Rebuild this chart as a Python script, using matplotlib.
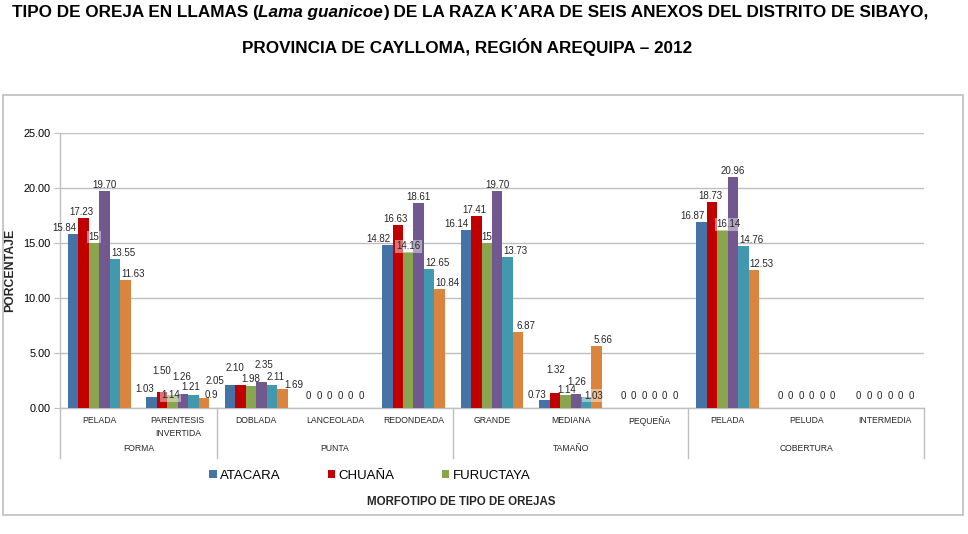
import matplotlib
matplotlib.use('Agg')
import matplotlib.pyplot as plt
from matplotlib import font_manager
from matplotlib.patches import Rectangle
from matplotlib.lines import Line2D
from matplotlib.transforms import blended_transform_factory, offset_copy
import numpy as np

# categories of the x axis (two levels)
categories = ['PELADA', 'PARENTESIS\nINVERTIDA', 'DOBLADA', 'LANCEOLADA', 'REDONDEADA',
              'GRANDE', 'MEDIANA', 'PEQUEÑA', 'PELADA', 'PELUDA', 'INTERMEDIA']
groups = ['FORMA', 'PUNTA', 'TAMAÑO', 'COBERTURA']
group_sizes = [2, 3, 3, 3]

# values as printed on the chart (one list per anexo)
series_names = ['ATACARA', 'CHUAÑA', 'FURUCTAYA', 'ANEXO 4', 'ANEXO 5', 'ANEXO 6']
atacara = ['15.84', '1.03', '2.05', '0', '14.82', '16.14', '0.73', '0', '16.87', '0', '0']
chuana = ['17.23', '1.50', '2.10', '0', '16.63', '17.41', '1.32', '0', '18.73', '0', '0']
fuructaya = ['15', '1.14', '1.98', '0', '14.16', '15', '1.14', '0', '16.14', '0', '0']
anexo4 = ['19.70', '1.26', '2.35', '0', '18.61', '19.70', '1.26', '0', '20.96', '0', '0']
anexo5 = ['13.55', '1.21', '2.11', '0', '12.65', '13.73', '1.03', '0', '14.76', '0', '0']
anexo6 = ['11.63', '0.9', '1.69', '0', '10.84', '6.87', '5.66', '0', '12.53', '0', '0']
all_series = [atacara, chuana, fuructaya, anexo4, anexo5, anexo6]
legend_shown = 3  # only the first three appear in the legend

colors = ['#4572A7', '#C00000', '#89A54E', '#71588F', '#4198AF', '#DB843D']
# label nudges (px, right / up from the bar top) per series, like the excel placement
label_dx = [-9, -2, 0, 0, 8, 8]
label_dy = 6
# hand placed labels on the short bars (series, category): (dx, dy) px
label_moves = {
    (0, 1): (-7, 8), (1, 1): (0, 20), (2, 1): (-2, 0), (3, 1): (-1, 17), (4, 1): (-3, 8), (5, 1): (7, 3),
    (0, 2): (-15, 4), (1, 2): (-6, 17), (2, 2): (0, 7), (3, 2): (2, 17), (4, 2): (3, 8), (5, 2): (11, 4),
    (0, 6): (-7, 5), (1, 6): (1, 23), (2, 6): (1, 5), (3, 6): (1, 12), (4, 6): (7, 1), (5, 6): (6, 6),
    (2, 8): (6, 6),
}
# labels that carry a faint highlight box (series index, category index)
boxed = [(2, 0), (2, 1), (2, 4), (4, 6), (2, 8)]

available = {f.name for f in font_manager.fontManager.ttflist}
NARROW = 'Liberation Sans Narrow' if 'Liberation Sans Narrow' in available else 'Liberation Sans'
plt.rcParams['font.family'] = [NARROW, 'DejaVu Sans']

W, H = 968, 534
fig = plt.figure(figsize=(W / 100, H / 100), dpi=100)

# outer chart border
fig.add_artist(Rectangle((3 / W, 1 - 515 / H), 960 / W, 420 / H, transform=fig.transFigure,
                         fill=False, edgecolor='#bfbfbf', lw=1.2))

ax = fig.add_axes([60 / W, 1 - 408 / H, 864 / W, 275 / H])

x = np.arange(len(categories))
n = len(all_series)
width = 0.8 / n
for i, vals in enumerate(all_series):
    heights = [float(v) for v in vals]
    pos = x - 0.4 + width * (i + 0.5)
    ax.bar(pos, heights, width, color=colors[i], label=series_names[i], zorder=3)
    for j, (p, h, txt) in enumerate(zip(pos, heights, vals)):
        if h == 0:
            dx, dy = 0, 12
        else:
            dx, dy = label_moves.get((i, j), (label_dx[i], label_dy))
        trans = offset_copy(ax.transData, fig=fig, x=dx, y=dy, units='dots')
        kw = {}
        if (i, j) in boxed:
            kw['bbox'] = dict(boxstyle='square,pad=0.15', fc='white', ec='none', alpha=0.45)
        ax.text(p, h, txt, transform=trans, ha='center', va='center', fontsize=7,
                color='#262626', zorder=5, **kw)

ax.set_xlim(-0.5, len(categories) - 0.5)
ax.set_ylim(0, 25)
ax.set_yticks(np.arange(0, 25.1, 5))
ax.set_yticklabels(['%.2f' % t for t in np.arange(0, 25.1, 5)], fontsize=7.8)
ax.yaxis.grid(True, color='#bfbfbf', lw=1.0, zorder=0)
ax.set_axisbelow(True)
ax.set_xticks([])
ax.tick_params(axis='y', length=4, color='#bfbfbf', pad=3)
for s in ['top', 'right']:
    ax.spines[s].set_visible(False)
for s in ['left', 'bottom']:
    ax.spines[s].set_color('#bfbfbf')
    ax.spines[s].set_linewidth(1.0)

# two-level category axis
bt = blended_transform_factory(ax.transData, ax.transAxes)
for xi, cat in zip(x, categories):
    ax.text(xi, -0.028, cat, transform=bt, ha='center', va='top', fontsize=6.2,
            linespacing=1.6, color='#262626')
start = 0
bounds = [-0.5]
for g, size in zip(groups, group_sizes):
    ax.text(start + (size - 1) / 2, -0.149, g, transform=bt, ha='center', va='center',
            fontsize=6.2, color='#262626')
    start += size
    bounds.append(start - 0.5)
for b in bounds:
    ax.add_line(Line2D([b, b], [0, -0.18], transform=bt, color='#bfbfbf', lw=1.0,
                       clip_on=False))

# legend (only three entries visible)
handles, labels = ax.get_legend_handles_labels()
fig.legend(handles[:legend_shown], labels[:legend_shown], loc='center',
           bbox_to_anchor=(370 / W, 1 - 476 / H), ncol=3, frameon=False, fontsize=9.5,
           handlelength=0.55, handleheight=0.55, handletextpad=0.25, columnspacing=3.6)

fig.text(461 / W, 1 - 502 / H, 'MORFOTIPO DE TIPO DE OREJAS', ha='center', va='center',
         fontsize=8.3, fontweight='bold', color='#262626')
fig.text(10 / W, 1 - 270 / H, 'PORCENTAJE', ha='center', va='center', rotation=90,
         fontsize=8.8, fontweight='bold', color='#262626')

# title, first line has an italic species name
renderer = fig.canvas.get_renderer()
tfont = dict(fontsize=12.3, fontweight='bold', family=['Liberation Sans', 'DejaVu Sans'])
parts = [('TIPO DE OREJA EN LLAMAS (', 'normal'), ('Lama guanicoe', 'italic'),
         (') DE LA RAZA K’ARA DE SEIS ANEXOS DEL DISTRITO DE SIBAYO,', 'normal')]
texts = [fig.text(0, 1 - 12 / H, p, va='center', ha='left', style=st, **tfont)
         for p, st in parts]
widths = [t.get_window_extent(renderer).width for t in texts]
xpos = 470 - sum(widths) / 2
for t, w in zip(texts, widths):
    t.set_x(xpos / W)
    xpos += w
fig.text(467 / W, 1 - 47 / H, 'PROVINCIA DE CAYLLOMA, REGIÓN AREQUIPA – 2012',
         ha='center', va='center', **tfont)

fig.savefig('out.png', dpi=100)
